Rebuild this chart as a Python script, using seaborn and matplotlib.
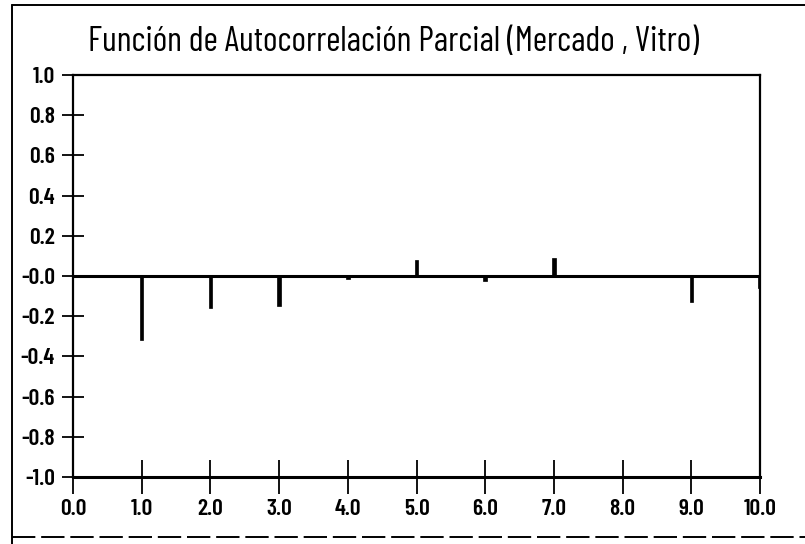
import matplotlib
matplotlib.use("Agg")
import matplotlib.pyplot as plt
import seaborn as sns
import numpy as np
from matplotlib.lines import Line2D

lags = [1, 2, 3, 4, 5, 6, 7, 8, 9, 10]
pacf = [-0.32, -0.16, -0.15, -0.015, 0.08, -0.025, 0.09, 0.005, -0.13, -0.06]
title = "Función de Autocorrelación Parcial (Mercado , Vitro)"
xticks = [0, 1, 2, 3, 4, 5, 6, 7, 8, 9, 10]
xlabels = ["0.0", "1.0", "2.0", "3.0", "4.0", "5.0", "6.0", "7.0", "8.0", "9.0", "10.0"]
yticks = [1.0, 0.8, 0.6, 0.4, 0.2, 0.0, -0.2, -0.4, -0.6, -0.8, -1.0]
ylabels = ["1.0", "0.8", "0.6", "0.4", "0.2", "-0.0", "-0.2", "-0.4", "-0.6", "-0.8", "-1.0"]

sns.set_theme(style="white")
plt.rcParams["font.family"] = ["Barlow Condensed", "DejaVu Sans"]

fig = plt.figure(figsize=(8.05, 5.44), dpi=100)
ax = fig.add_axes([73/805, 1-477/544, (760-73)/805, (477-75)/544])

sns.barplot(x=lags, y=pacf, native_scale=True, width=0.05, color="black",
            edgecolor="black", linewidth=0.5, ax=ax)

ax.axhline(0, color="black", lw=2.2, zorder=1)
ax.set_xlim(0, 10)
ax.set_ylim(-1, 1)
ax.set_xticks(xticks)
ax.set_xticklabels(xlabels)
ax.set_yticks(yticks)
ax.set_yticklabels(ylabels)
ax.set_xlabel("")
ax.set_ylabel("")
for s in ax.spines.values():
    s.set_visible(True)
    s.set_color("black")
    s.set_linewidth(1.6)
ax.spines["bottom"].set_linewidth(2.2)
ax.tick_params(axis="both", which="both", direction="inout", color="black",
               width=1.3, labelsize=17, labelcolor="black",
               bottom=True, left=True)
ax.tick_params(axis="y", length=16, pad=5)
ax.tick_params(axis="x", length=24, pad=4)
for lab in ax.get_xticklabels() + ax.get_yticklabels():
    lab.set_fontweight("semibold")

fig.text(393/805, 1-42/544, title, ha="center", va="center", fontsize=25,
         color="black")

# outer frame of the page
fig.add_artist(Line2D([12/805, 12/805], [0, 1-5/544], transform=fig.transFigure,
                      color="black", lw=1.4))
fig.add_artist(Line2D([12/805, 1], [1-5/544, 1-5/544], transform=fig.transFigure,
                      color="black", lw=1.4))
fig.add_artist(Line2D([12/805, 1], [1-537/544, 1-537/544], transform=fig.transFigure,
                      color="black", lw=1.4, ls=(0, (12, 3))))

fig.savefig("out.png", dpi=100, facecolor="white")
